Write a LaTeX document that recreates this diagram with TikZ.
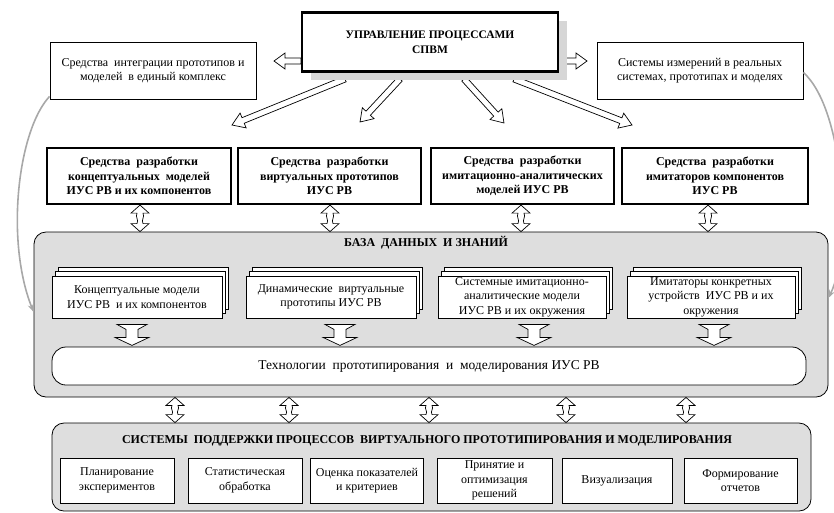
\documentclass[tikz,border=0pt]{standalone}
\usepackage{fontspec}
\setmainfont{Liberation Serif}
\usetikzlibrary{calc,shadows,arrows.meta,backgrounds}

\definecolor{panelgray}{RGB}{222,222,222}
\definecolor{shadowgray}{RGB}{214,214,214}
\definecolor{linkgray}{RGB}{168,168,168}

% hollow arrow: from #1 to #2, shaft half-width #3, head half-width #4, head length #5
\newcommand{\hollowarrow}[5]{%
  \coordinate (ha-base) at ($(#2)!#5!(#1)$);
  \draw[harrow] ($(#1)!#3!-90:(#2)$) -- ($(ha-base)!#3!90:(#1)$)
    -- ($(ha-base)!#4!90:(#1)$) -- (#2) -- ($(ha-base)!#4!-90:(#1)$)
    -- ($(ha-base)!#3!-90:(#1)$) -- ($(#1)!#3!90:(#2)$) -- cycle;
}
% vertical two-headed block arrow between top point #1 and bottom point #2
\newcommand{\twowayarrow}[2]{%
  \draw[blockarrow] (#1) -- ($(#1)+(9,8)$) -- ($(#1)+(3,8)$)
    .. controls ($(#1)+(5,12)$) and ($(#2)+(1,-12)$) .. ($(#2)+(3,-8)$)
    -- ($(#2)+(9,-8)$) -- (#2) -- ($(#2)+(-9,-8)$) -- ($(#2)+(-3,-8)$)
    .. controls ($(#2)+(-1,-12)$) and ($(#1)+(-5,12)$) .. ($(#1)+(-3,8)$)
    -- ($(#1)+(-9,8)$) -- cycle;
}
% downward feed arrow with a flared top, top centre #1
\newcommand{\feedarrow}[1]{%
  \draw[blockarrow] ($(#1)+(-15,0)$) -- ($(#1)+(15,0)$) -- ($(#1)+(6,5)$)
    -- ($(#1)+(6,13)$) -- ($(#1)+(17,13)$) -- ($(#1)+(0,21)$)
    -- ($(#1)+(-17,13)$) -- ($(#1)+(-6,13)$) -- ($(#1)+(-6,5)$) -- cycle;
}

\begin{document}
\begin{tikzpicture}[x=1pt,y=-1pt,
  every node/.style={font=\fontsize{12}{14.5}\selectfont, align=center, inner sep=0pt},
  plainbox/.style={draw, line width=0.8pt, fill=white},
  boldbox/.style={draw, line width=2.2pt, fill=white,
    font=\fontsize{12}{14.5}\selectfont\bfseries},
  stackbox/.style={draw, line width=0.8pt, fill=white,
    copy shadow={shadow xshift=6pt, shadow yshift=9pt, draw, fill=white, line width=0.8pt},
    copy shadow={shadow xshift=3pt, shadow yshift=4.5pt, draw, fill=white, line width=0.8pt}},
  panel/.style={draw, line width=0.8pt, fill=panelgray, rounded corners=12pt},
  heading/.style={font=\fontsize{12}{14.5}\selectfont\bfseries},
  harrow/.style={draw, fill=white, line width=0.7pt, line join=miter},
  blockarrow/.style={draw, fill=white, line width=0.7pt, line join=miter},
  link/.style={draw=linkgray, line width=1.6pt, -{Stealth[length=8pt,width=6pt]}}
]
\useasboundingbox (0,0) rectangle (834,512);

% ---- top level ----
\node[boldbox, font=\fontsize{11.5}{14.5}\selectfont\bfseries,
  minimum width=256pt, minimum height=59pt,
  drop shadow={shadow xshift=9pt, shadow yshift=-8pt, fill=shadowgray, opacity=1}]
  (ctrl) at (430,42) {УПРАВЛЕНИЕ ПРОЦЕССАМИ\\СПВМ};
\node[plainbox, minimum width=206pt, minimum height=57pt] (integ) at (153,70.5)
  {Средства~ интеграции прототипов и\\моделей~ в единый комплекс};
\node[plainbox, minimum width=206pt, minimum height=57pt] (meas) at (700,70.5)
  {Системы измерений в реальных\\системах, прототипах и моделях};

% ---- development tools ----
\node[boldbox, minimum width=184pt, minimum height=56pt] (t1) at (139,176)
  {Средства~ разработки\\концептуальных~ моделей\\ИУС РВ и их компонентов};
\node[boldbox, minimum width=183pt, minimum height=56pt] (t2) at (329.5,176)
  {Средства~ разработки\\виртуальных прототипов\\ИУС РВ};
\node[boldbox, minimum width=183pt, minimum height=56pt] (t3) at (522.5,176)
  {Средства~ разработки\\имитационно-аналитических\\моделей ИУС РВ};
\node[boldbox, minimum width=186pt, minimum height=56pt] (t4) at (715,176)
  {Средства~ разработки\\имитаторов компонентов\\ИУС РВ};

% ---- data and knowledge base ----
\node[panel, minimum width=794pt, minimum height=165pt] (db) at (431,314.5) {};
\node[heading] (dbtitle) at (426,243) {БАЗА~ ДАННЫХ~ И ЗНАНИЙ};
\node[stackbox, minimum width=170pt, minimum height=42pt] (s1) at (137,297)
  {Концептуальные модели\\ИУС РВ~ и их компонентов};
\node[stackbox, minimum width=170pt, minimum height=42pt] (s2) at (331,297)
  {Динамические~ виртуальные\\прототипы ИУС РВ};
\node[stackbox, minimum width=168pt, minimum height=42pt] (s3) at (522,297)
  {Системные имитационно-\\аналитические модели\\ИУС РВ и их окружения};
\node[stackbox, minimum width=168pt, minimum height=42pt] (s4) at (711,297)
  {Имитаторы конкретных\\устройств~ ИУС РВ и их\\окружения};
\node[plainbox, rounded corners=14pt, minimum width=754pt, minimum height=38pt,
  font=\fontsize{13.5}{16}\selectfont] (tech)
  at (429,366) {Технологии~ прототипирования~ и~ моделирования ИУС РВ};

% ---- support systems ----
\node[panel, minimum width=759pt, minimum height=88pt] (sys) at (431.5,467) {};
\node[heading] (systitle) at (427,441)
  {СИСТЕМЫ~ ПОДДЕРЖКИ ПРОЦЕССОВ~ ВИРТУАЛЬНОГО ПРОТОТИПИРОВАНИЯ И МОДЕЛИРОВАНИЯ};
\node[plainbox, minimum width=114pt, minimum height=45pt] (b1) at (117,480.5)
  {Планирование\\экспериментов};
\node[plainbox, minimum width=114pt, minimum height=45pt] (b2) at (245,480.5)
  {Статистическая\\обработка};
\node[plainbox, minimum width=113pt, minimum height=45pt] (b3) at (367,480.5)
  {Оценка показателей\\и критериев};
\node[plainbox, minimum width=115pt, minimum height=45pt] (b4) at (494.5,480.5)
  {Принятие и\\оптимизация\\решений};
\node[plainbox, minimum width=110pt, minimum height=45pt] (b5) at (617,480.5)
  {Визуализация};
\node[plainbox, minimum width=113pt, minimum height=45pt] (b6) at (740.5,480.5)
  {Формирование\\отчетов};

% ---- arrows from the control box ----
\coordinate (cl) at (ctrl.west |- 0,61);
\coordinate (cr) at (ctrl.east |- 0,61);
\coordinate (cd1) at (345,79);
\coordinate (cd2) at (400,79);
\coordinate (cd3) at (464,79);
\coordinate (cd4) at (514,79);
\coordinate (el) at (274,61);
\coordinate (er) at (587,61);
\coordinate (ed1) at (232,125);
\coordinate (ed2) at (360,122);
\coordinate (ed3) at (504,123);
\coordinate (ed4) at (632,125);
\begin{pgfonlayer}{background}
  \hollowarrow{cl}{el}{3pt}{8pt}{11pt}
  \hollowarrow{cr}{er}{3pt}{8pt}{11pt}
  \hollowarrow{cd1}{ed1}{3pt}{8pt}{12pt}
  \hollowarrow{cd2}{ed2}{3pt}{8pt}{12pt}
  \hollowarrow{cd3}{ed3}{3pt}{8pt}{12pt}
  \hollowarrow{cd4}{ed4}{3pt}{8pt}{12pt}
\end{pgfonlayer}

% ---- tools <-> base ----
\twowayarrow{140,0 |- t1.south}{140,0 |- db.north}
\twowayarrow{330,0 |- t2.south}{330,0 |- db.north}
\twowayarrow{521,0 |- t3.south}{521,0 |- db.north}
\twowayarrow{708,0 |- t4.south}{708,0 |- db.north}

% ---- models feed the technologies ----
\coordinate (f1) at ($(132,0 |- s1.south)+(0,6)$);
\coordinate (f2) at ($(340,0 |- s2.south)+(0,6)$);
\coordinate (f3) at ($(534,0 |- s3.south)+(0,6)$);
\coordinate (f4) at ($(714,0 |- s4.south)+(0,6)$);
\feedarrow{f1}
\feedarrow{f2}
\feedarrow{f3}
\feedarrow{f4}

% ---- base <-> support systems ----
\twowayarrow{175,0 |- db.south}{175,0 |- sys.north}
\twowayarrow{289,0 |- db.south}{289,0 |- sys.north}
\twowayarrow{429,0 |- db.south}{429,0 |- sys.north}
\twowayarrow{566,0 |- db.south}{566,0 |- sys.north}
\twowayarrow{686,0 |- db.south}{686,0 |- sys.north}

% ---- feedback links into the base ----
\coordinate (ls) at ($(integ.south west)+(0,-3)$);
\coordinate (le) at (db.west |- 0,312);
\coordinate (rs) at ($(meas.east)+(0,2)$);
\coordinate (re) at (db.east |- 0,298);
\draw[link] (ls) .. controls (18,130) and (5,240) .. (le);
\draw[link] (rs) .. controls (845,110) and (852,250) .. (re);
\end{tikzpicture}
\end{document}
